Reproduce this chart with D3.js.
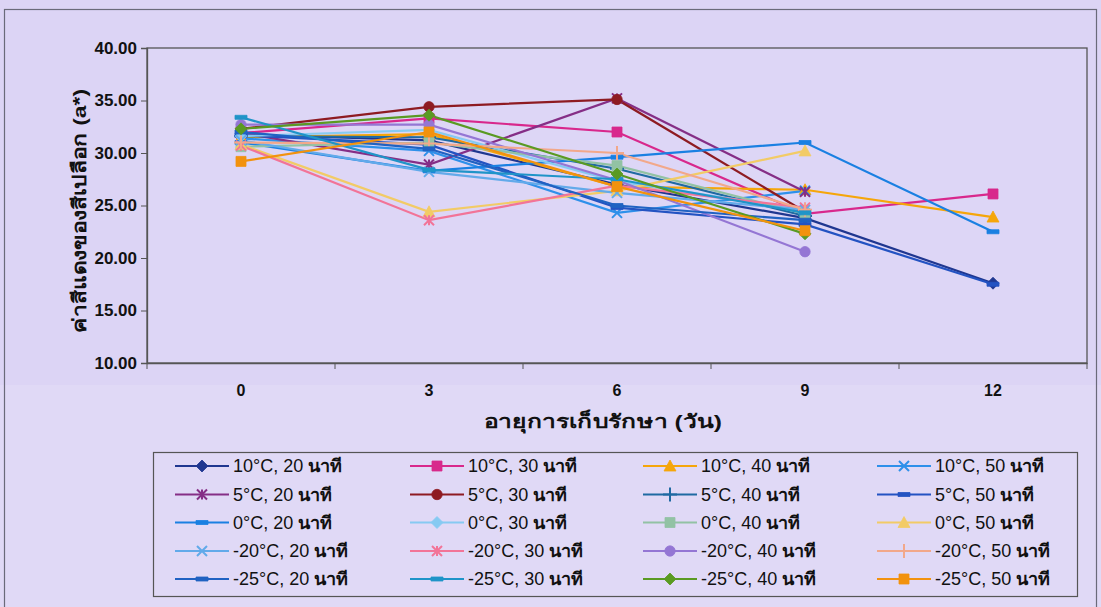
<!DOCTYPE html>
<html>
<head>
<meta charset="utf-8">
<script src="https://cdn.jsdelivr.net/npm/d3@7"></script>
<style>
  body { margin: 0; background: #dcd4f5; }
  svg { display: block; }
  .tick text { font-family: "Liberation Sans Narrow", "Arial Narrow", "Liberation Sans", Arial, sans-serif; font-weight: bold; font-size: 17px; fill: #111; }
</style>
</head>
<body>
<div id="chart"></div>
<script>
// storage days
var days = ['0', '3', '6', '9', '12'];
var yTicks = [10, 15, 20, 25, 30, 35, 40];

var seriesNames = [
  '10°C, 20', '10°C, 30', '10°C, 40', '10°C, 50',
  '5°C, 20', '5°C, 30', '5°C, 40', '5°C, 50',
  '0°C, 20', '0°C, 30', '0°C, 40', '0°C, 50',
  '-20°C, 20', '-20°C, 30', '-20°C, 40', '-20°C, 50',
  '-25°C, 20', '-25°C, 30', '-25°C, 40', '-25°C, 50'
];
var unitLabel = 'นาที';

var seriesValues = [
  [31.8, 31.2, 27.0, 23.8, 17.6],
  [31.9, 33.3, 32.0, 24.2, 26.1],
  [31.5, 31.8, 26.8, 26.5, 23.9],
  [31.4, 30.2, 24.3, 26.4, null],
  [31.9, 28.9, 35.2, 26.3, null],
  [32.3, 34.4, 35.1, 24.4, null],
  [31.6, 31.5, 28.5, 24.0, null],
  [31.7, 30.8, 24.8, 23.2, 17.5],
  [31.0, 28.3, 29.6, 31.0, 22.5],
  [31.6, 32.2, 27.3, 24.6, null],
  [30.6, 31.0, 28.8, 24.2, null],
  [30.8, 24.4, 26.4, 30.2, null],
  [31.2, 28.2, 26.2, 24.6, null],
  [30.7, 23.6, 26.9, 24.8, null],
  [32.7, 32.7, 27.4, 20.6, null],
  [31.0, 30.9, 30.0, 24.6, null],
  [32.0, 30.4, 25.0, 23.6, null],
  [33.4, 28.4, 27.5, 24.3, null],
  [32.3, 33.6, 28.0, 22.3, null],
  [29.2, 32.0, 26.8, 22.6, null]
];

var seriesColors = [
  '#1f3790', '#d8288c', '#f5a60a', '#2e90ea',
  '#852e86', '#8e1b22', '#1f6aa2', '#2353c2',
  '#1a80e2', '#86caf2', '#92c2a4', '#f2cb66',
  '#62aaea', '#f27498', '#9476d4', '#f2a88a',
  '#2062c2', '#1f94c8', '#5a9a22', '#f2920e'
];

var seriesMarkers = [
  'diamond', 'square', 'triangle', 'x',
  'star', 'circle', 'plus', 'dash',
  'dash', 'diamond', 'square', 'triangle',
  'x', 'star', 'circle', 'plus',
  'dash', 'dash', 'diamond', 'square'
];

var width = 1101, height = 607;
var margin = { left: 147, top: 48, right: 1087, bottom: 363 };

var svg = d3.select('#chart').append('svg')
  .attr('width', width)
  .attr('height', height);

// slightly lighter lower band of the scanned page
svg.append('rect')
  .attr('x', 0).attr('y', 385)
  .attr('width', width).attr('height', height - 385)
  .attr('fill', '#e0d9f6');

// outer chart border
svg.append('rect')
  .attr('x', 4.5).attr('y', 9.5)
  .attr('width', 1092).attr('height', 620)
  .attr('fill', 'none')
  .attr('stroke', '#6a6a7a')
  .attr('stroke-width', 1.2);

var x = d3.scaleBand().domain(days).range([margin.left, margin.right]);
var y = d3.scaleLinear().domain([10, 40]).range([margin.bottom, margin.top]);

// plot area
svg.append('rect')
  .attr('x', margin.left).attr('y', margin.top)
  .attr('width', margin.right - margin.left)
  .attr('height', margin.bottom - margin.top)
  .attr('fill', '#ddd6f6')
  .attr('stroke', '#555')
  .attr('stroke-width', 1.3);

var yAxis = svg.append('g')
  .attr('transform', 'translate(' + margin.left + ',0)')
  .call(d3.axisLeft(y).tickValues(yTicks).tickFormat(d3.format('.2f')).tickSize(6).tickPadding(4));
yAxis.select('.domain').attr('stroke', '#555').attr('stroke-width', 1.3);
yAxis.selectAll('.tick line').attr('stroke', '#555');

// x ticks sit between categories
var xAxis = svg.append('g')
  .attr('transform', 'translate(0,' + margin.bottom + ')')
  .call(d3.axisBottom(x).tickSize(0).tickPadding(22));
xAxis.select('.domain').attr('stroke', '#555').attr('stroke-width', 1.3);
xAxis.selectAll('.tick text').style('font-family', '"Liberation Sans", Arial, sans-serif').style('font-size', '16px');

svg.append('g').selectAll('line')
  .data(days.concat(['end']))
  .enter().append('line')
  .attr('x1', function(d, i){ return margin.left + i * x.bandwidth(); })
  .attr('x2', function(d, i){ return margin.left + i * x.bandwidth(); })
  .attr('y1', margin.bottom)
  .attr('y2', margin.bottom + 6)
  .attr('stroke', '#555');

// axis titles
svg.append('text')
  .attr('transform', 'translate(86,211) rotate(-90)')
  .attr('text-anchor', 'middle')
  .attr('textLength', 244)
  .attr('lengthAdjust', 'spacingAndGlyphs')
  .style('font-family', '"Liberation Sans", Arial, sans-serif')
  .style('font-weight', 'bold')
  .style('font-size', '19px')
  .attr('fill', '#111')
  .text('ค่าสีแดงของสีเปลือก (a*)');

svg.append('text')
  .attr('x', 603).attr('y', 428)
  .attr('text-anchor', 'middle')
  .attr('textLength', 238)
  .attr('lengthAdjust', 'spacingAndGlyphs')
  .style('font-family', '"Liberation Sans", Arial, sans-serif')
  .style('font-weight', 'bold')
  .style('font-size', '19px')
  .attr('fill', '#111')
  .text('อายุการเก็บรักษา (วัน)');

function markerPath(type, s) {
  var h = s / 2;
  switch (type) {
    case 'diamond': return 'M0,' + (-h - 1) + 'L' + (h + 1) + ',0L0,' + (h + 1) + 'L' + (-h - 1) + ',0Z';
    case 'square': return 'M' + (-h) + ',' + (-h) + 'h' + s + 'v' + s + 'h' + (-s) + 'Z';
    case 'triangle': return 'M0,' + (-h - 1) + 'L' + (h + 1) + ',' + (h) + 'L' + (-h - 1) + ',' + (h) + 'Z';
    case 'circle': return d3.symbol().type(d3.symbolCircle).size(s * s * 0.85)();
    case 'dash': return 'M' + (-h - 1) + ',-2h' + (s + 2) + 'v4h' + (-s - 2) + 'Z';
    case 'x': return 'M' + (-h) + ',' + (-h) + 'L' + h + ',' + h + 'M' + h + ',' + (-h) + 'L' + (-h) + ',' + h;
    case 'plus': return 'M0,' + (-h - 2) + 'V' + (h + 2) + 'M' + (-h - 2) + ',0H' + (h + 2);
    case 'star': return 'M0,' + (-h) + 'V' + h + 'M' + (-h) + ',' + (-h) + 'L' + h + ',' + h + 'M' + h + ',' + (-h) + 'L' + (-h) + ',' + h;
  }
}

function isOpen(type) { return type === 'x' || type === 'plus' || type === 'star'; }

function drawMarker(g, type, color, s) {
  g.append('path')
    .attr('d', markerPath(type, s))
    .attr('fill', isOpen(type) ? 'none' : color)
    .attr('stroke', color)
    .attr('stroke-width', isOpen(type) ? 2 : 0.8);
}

var line = d3.line()
  .defined(function(d){ return d.v !== null; })
  .x(function(d){ return x(d.day) + x.bandwidth() / 2; })
  .y(function(d){ return y(d.v); });

var series = seriesNames.map(function(name, i){
  return {
    name: name,
    color: seriesColors[i],
    marker: seriesMarkers[i],
    points: seriesValues[i].map(function(v, j){ return { day: days[j], v: v }; })
  };
});

var plot = svg.append('g');

series.forEach(function(s){
  plot.append('path')
    .datum(s.points)
    .attr('d', line)
    .attr('fill', 'none')
    .attr('stroke', s.color)
    .attr('stroke-width', 2.2);
});

series.forEach(function(s){
  s.points.forEach(function(p){
    if (p.v === null) return;
    var g = plot.append('g')
      .attr('transform', 'translate(' + (x(p.day) + x.bandwidth() / 2) + ',' + y(p.v) + ')');
    drawMarker(g, s.marker, s.color, 10);
  });
});

// legend
var legend = svg.append('g');
legend.append('rect')
  .attr('x', 153.5).attr('y', 452.5)
  .attr('width', 924).attr('height', 144)
  .attr('fill', 'none')
  .attr('stroke', '#555')
  .attr('stroke-width', 1.2);

var colX = [175, 410, 643, 877];
var rowY = [466, 494.5, 522.5, 551, 579];

series.forEach(function(s, i){
  var col = i % 4, row = Math.floor(i / 4);
  var g = legend.append('g')
    .attr('transform', 'translate(' + colX[col] + ',' + rowY[row] + ')');
  g.append('line')
    .attr('x1', 0).attr('x2', 54)
    .attr('stroke', s.color)
    .attr('stroke-width', 2.2);
  var m = g.append('g').attr('transform', 'translate(27,0)');
  drawMarker(m, s.marker, s.color, 10);
  var t = g.append('text')
    .attr('x', 58).attr('y', 6)
    .style('font-family', '"Liberation Sans", Arial, sans-serif')
    .style('font-size', '18px')
    .attr('fill', '#111');
  t.append('tspan').text(s.name + ' ');
  t.append('tspan').style('font-weight', 'bold').text(unitLabel);
});
</script>
</body>
</html>
